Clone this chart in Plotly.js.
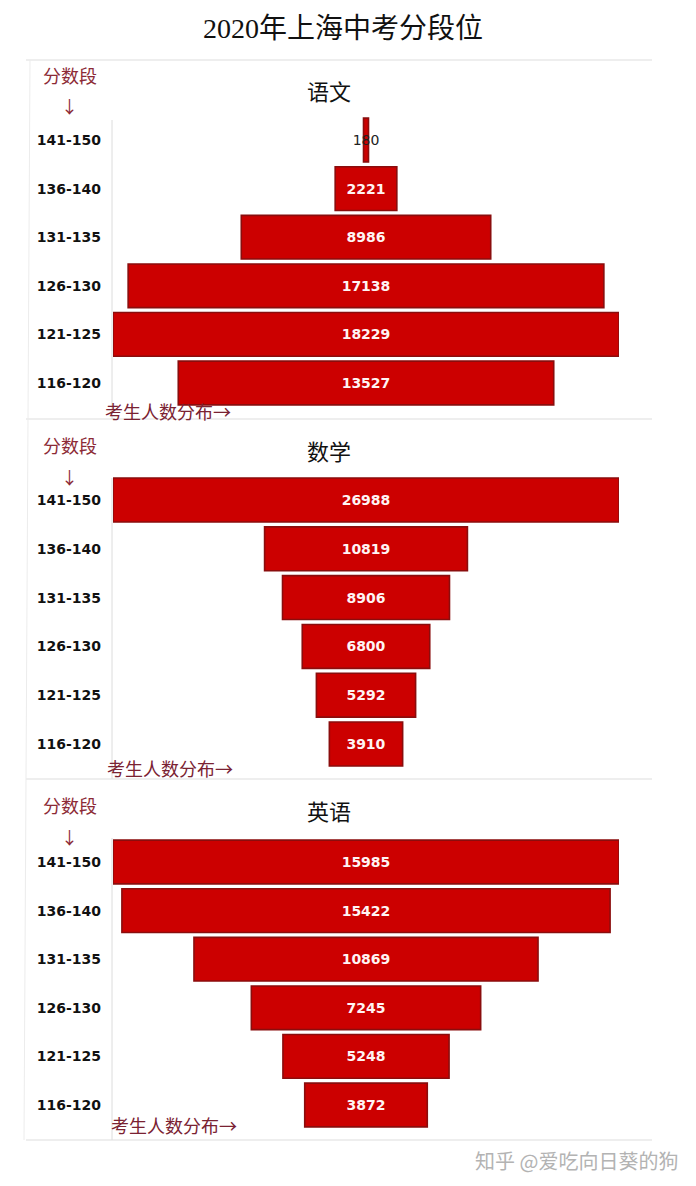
<!DOCTYPE html>
<html>
<head>
<meta charset="utf-8">
<script src="https://cdn.plot.ly/plotly-3.0.1.min.js"></script>
<style>html,body{margin:0;padding:0;background:#fff;}#chart{width:696px;height:1186px;}</style>
</head>
<body>
<div id="chart"></div>
<script>
// ---- data ----
const title = "2020年上海中考分段位";
const scoreBands = ["141-150", "136-140", "131-135", "126-130", "121-125", "116-120"];
const subjects = ["语文", "数学", "英语"];
const chineseCounts = [180, 2221, 8986, 17138, 18229, 13527];
const mathCounts = [26988, 10819, 8906, 6800, 5292, 3910];
const englishCounts = [15985, 15422, 10869, 7245, 5248, 3872];
const yLabelText = "分数段";
const yArrowText = "↓";
const xLabelText = "考生人数分布→";
const watermark = "知乎 @爱吃向日葵的狗";

// ---- layout helpers ----
const W = 696, H = 1186;
const px = x => x / W;
const py = y => 1 - y / H;
const panels = [
  {counts: chineseCounts, top: 115.7, bottom: 407.3, sub: 90, lab: 75, arrow: 105, xl: 411, xlx: 168, lineTop: 120, lineBot: 419},
  {counts: mathCounts, top: 475.6, bottom: 768.4, sub: 450, lab: 445, arrow: 477, xl: 768, xlx: 170, lineTop: 478, lineBot: 779},
  {counts: englishCounts, top: 837.7, bottom: 1129.3, sub: 810, lab: 805, arrow: 836, xl: 1125, xlx: 174, lineTop: 838, lineBot: 1140}
];
const sepLines = [60, 419, 779, 1140];

const traces = [];
const layout = {
  width: W, height: H,
  margin: {l: 0, r: 0, t: 0, b: 0},
  paper_bgcolor: "#ffffff",
  plot_bgcolor: "rgba(0,0,0,0)",
  showlegend: false,
  bargap: 0.1,
  title: {
    text: title, x: 0.493, xanchor: "center", y: py(28), yanchor: "middle",
    font: {family: "Liberation Serif, Noto Sans CJK SC, serif", size: 28, color: "#111"}
  },
  annotations: [],
  shapes: []
};

panels.forEach((p, i) => {
  const n = i + 1;
  const xa = "x" + (n === 1 ? "" : n), ya = "y" + (n === 1 ? "" : n);
  const maxV = Math.max(...p.counts);
  const small = p.counts.map(v => v / maxV < 0.05);
  traces.push({
    type: "bar", orientation: "h",
    y: scoreBands, x: p.counts,
    base: p.counts.map(v => -v / 2),
    xaxis: xa, yaxis: ya,
    marker: {color: "#cc0000", line: {color: "#8a0d0d", width: 1.6}},
    text: p.counts.map((v, k) => small[k] ? String(v) : "<b>" + v + "</b>"),
    textposition: "inside",
    insidetextanchor: "middle",
    constraintext: "none",
    textangle: 0,
    insidetextfont: {family: "DejaVu Sans, Liberation Sans, sans-serif", size: 14,
      color: small.map(s => s ? "#222" : "#fff4f4")},
    hoverinfo: "skip"
  });
  layout["xaxis" + (n === 1 ? "" : n)] = {
    domain: [px(113), px(619)], range: [-maxV / 2, maxV / 2],
    visible: false, anchor: ya, fixedrange: true
  };
  layout["yaxis" + (n === 1 ? "" : n)] = {
    domain: [py(p.bottom), py(p.top)], anchor: xa,
    type: "category", categoryorder: "array", categoryarray: scoreBands,
    autorange: "reversed", showgrid: false, zeroline: false, showline: false,
    ticks: "", ticklabelstandoff: 11,
    tickfont: {family: "DejaVu Sans, Liberation Sans, sans-serif", size: 14, color: "#111", weight: "bold"}
  };
  // subtitle
  layout.annotations.push({
    text: subjects[i], xref: "paper", yref: "paper", x: px(329), y: py(p.sub),
    xanchor: "center", yanchor: "middle", showarrow: false,
    font: {family: "Noto Sans CJK SC", size: 22, color: "#111"}
  });
  layout.annotations.push({
    text: yLabelText, xref: "paper", yref: "paper", x: px(70), y: py(p.lab),
    xanchor: "center", yanchor: "middle", showarrow: false,
    font: {family: "Noto Sans CJK SC", size: 18, color: "#8c2a36"}
  });
  layout.annotations.push({
    text: yArrowText, xref: "paper", yref: "paper", x: px(69), y: py(p.arrow),
    xanchor: "center", yanchor: "middle", showarrow: false,
    font: {family: "Noto Sans CJK SC", size: 17, color: "#8c2a36"}
  });
  layout.annotations.push({
    text: xLabelText, xref: "paper", yref: "paper", x: px(p.xlx), y: py(p.xl),
    xanchor: "center", yanchor: "middle", showarrow: false,
    font: {family: "Noto Sans CJK SC", size: 18, color: "#7a2232"}
  });
  // y axis line
  layout.shapes.push({type: "line", xref: "paper", yref: "paper",
    x0: px(112), x1: px(112), y0: py(p.lineTop), y1: py(p.lineBot),
    line: {color: "#dcdcdc", width: 1}});
});

sepLines.forEach(y => {
  layout.shapes.push({type: "line", xref: "paper", yref: "paper",
    x0: px(26), x1: px(652), y0: py(y), y1: py(y),
    line: {color: "#dedede", width: 1.2}});
});
layout.shapes.push({type: "line", xref: "paper", yref: "paper",
  x0: px(30), x1: px(24), y0: py(60), y1: py(1140),
  line: {color: "#ececec", width: 1}});

layout.annotations.push({
  text: watermark, xref: "paper", yref: "paper", x: px(680), y: py(1160),
  xanchor: "right", yanchor: "middle", showarrow: false,
  font: {family: "Noto Sans CJK SC", size: 20, color: "#b3b3b3"}
});

Plotly.newPlot("chart", traces, layout, {staticPlot: true, displayModeBar: false});
</script>
</body>
</html>
